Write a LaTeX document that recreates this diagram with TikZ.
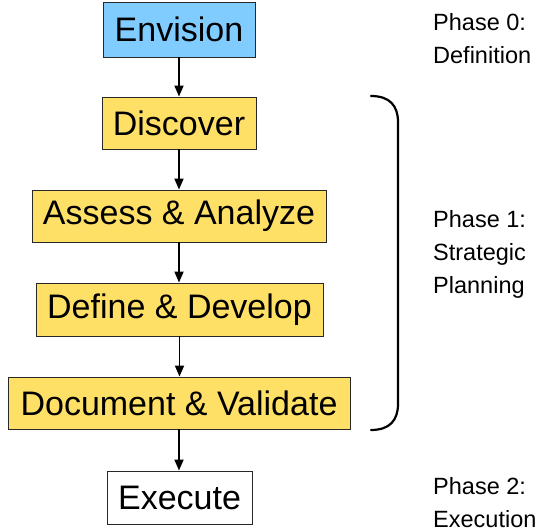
\documentclass[tikz,border=0pt]{standalone}
\usepackage{fontspec}
\setmainfont{Liberation Sans}
\usetikzlibrary{arrows.meta}
\definecolor{envblue}{RGB}{128,204,255}
\definecolor{phyellow}{RGB}{255,224,102}
\definecolor{boxline}{RGB}{40,40,40}
\begin{document}
\begin{tikzpicture}[x=1pt,y=-1pt,
  stepbox/.style={draw=boxline,line width=0.9pt,inner sep=0pt,
    font=\fontsize{34}{36}\selectfont},
  flowarrow/.style={line width=1.8pt,-{Triangle[length=11pt,width=9pt]}},
  phasetext/.style={align=left,anchor=west,inner sep=0pt,
    font=\fontsize{23.5}{33}\selectfont},
  bracketline/.style={line width=2.2pt,line cap=round}]
\useasboundingbox (0,0) rectangle (558,532);
\fill[white] (0,0) rectangle (558,532);

\node[stepbox,fill=envblue,minimum width=152pt,minimum height=55pt] (env) at (179,29.5) {Envision};
\node[stepbox,fill=phyellow,minimum width=154pt,minimum height=52pt] (disc) at (179,123) {Discover};
\node[stepbox,fill=phyellow,minimum width=294pt,minimum height=52pt] (assess) at (179,216) {Assess \& Analyze};
\node[stepbox,fill=phyellow,minimum width=287pt,minimum height=53pt] (define) at (179.5,309.5) {Define \& Develop};
\node[stepbox,fill=phyellow,minimum width=342pt,minimum height=52pt] (doc) at (179,403) {Document \& Validate};
\node[stepbox,fill=white,minimum width=145pt,minimum height=53pt] (exec) at (179.5,497.5) {Execute};

\draw[flowarrow] (env.south) -- (env.south |- disc.north);
\draw[flowarrow] (disc.south) -- (disc.south |- assess.north);
\draw[flowarrow] (assess.south) -- (assess.south |- define.north);
\draw[flowarrow] (define.south) -- (define.south |- doc.north);
\draw[flowarrow] (doc.south) -- (doc.south |- exec.north);

\coordinate (btop) at (371,96);
\coordinate (bbot) at (371,430);
\draw[bracketline] (btop) .. controls (390,96) and (398,106) .. (398,122)
  -- (398,404) .. controls (398,420) and (390,430) .. (bbot);

\node[phasetext] (p0) at (433,39) {Phase 0:\\Definition};
\node[phasetext] (p1) at (433,254) {Phase 1:\\Strategic\\Planning};
\node[phasetext] (p2) at (433,503) {Phase 2:\\Execution};
\end{tikzpicture}
\end{document}
